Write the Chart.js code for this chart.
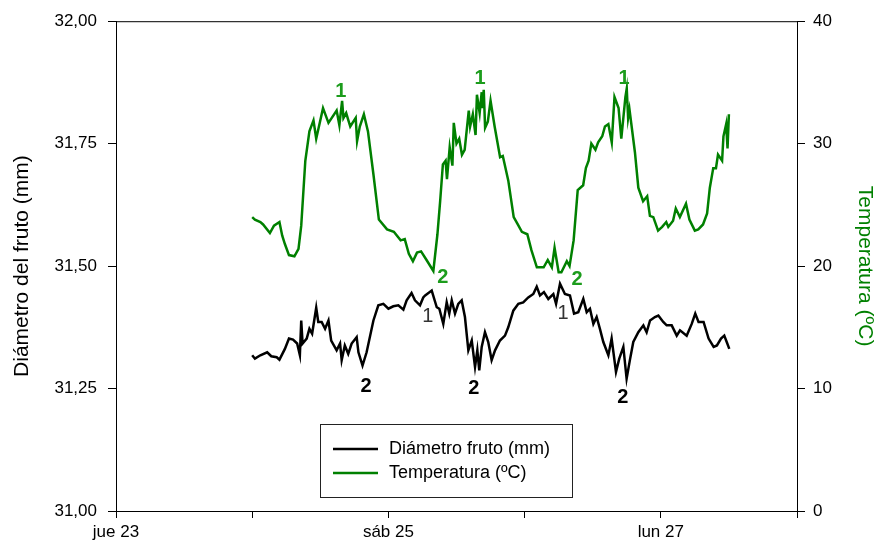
<!DOCTYPE html>
<html>
<head>
<meta charset="utf-8">
<script src="https://cdn.jsdelivr.net/npm/chart.js@4.4.0/dist/chart.umd.min.js"></script>
<style>
    html, body { margin: 0; padding: 0; background: #fff; }
    #wrap { width: 875px; height: 549px; }
</style>
</head>
<body>
<div id="wrap"><canvas id="fruitChart"></canvas></div>
<script>
// x values are days counted from jue 23 00:00
const dayLabels = ['jue 23', 'vie 24', 'sáb 25', 'dom 26', 'lun 27', 'mar 28'];

const tempDays = [1.00, 1.02, 1.06, 1.08, 1.13, 1.16, 1.20, 1.22, 1.24, 1.27, 1.31, 1.34, 1.36, 1.39, 1.42, 1.45, 1.47, 1.49,
    1.52, 1.56, 1.62, 1.64, 1.66, 1.67, 1.69, 1.72, 1.76, 1.77, 1.79, 1.82, 1.85, 1.89, 1.93, 1.99, 2.04, 2.09, 2.12, 2.15,
    2.18, 2.21, 2.24, 2.28, 2.33, 2.36, 2.38, 2.40, 2.42, 2.43, 2.45, 2.47, 2.48, 2.50, 2.52, 2.54, 2.56, 2.59, 2.60, 2.62,
    2.64, 2.65, 2.67, 2.685, 2.69, 2.70, 2.71, 2.73, 2.75, 2.78, 2.82, 2.84, 2.88, 2.92, 2.95, 2.98, 3.02, 3.05, 3.09, 3.14,
    3.17, 3.20, 3.22, 3.25, 3.27, 3.31, 3.33, 3.36, 3.39, 3.43, 3.45, 3.47, 3.49, 3.52, 3.54, 3.57, 3.59, 3.615, 3.64, 3.66,
    3.69, 3.71, 3.74, 3.75, 3.76, 3.77, 3.81, 3.835, 3.87, 3.90, 3.92, 3.945, 3.98, 4.01, 4.04, 4.055, 4.09, 4.11, 4.14,
    4.185, 4.21, 4.25, 4.275, 4.31, 4.34, 4.36, 4.385, 4.405, 4.42, 4.45, 4.46, 4.48, 4.49, 4.50];
const tempValues = [24.0, 23.8, 23.6, 23.4, 22.7, 23.3, 23.6, 22.5, 21.8, 20.9, 20.8, 21.4, 23.3, 28.6, 31.0, 31.9, 30.4, 31.4,
    32.9, 31.7, 32.7, 31.5, 33.5, 32.1, 32.5, 31.4, 32.1, 30.2, 31.4, 32.4, 31.0, 27.5, 23.8, 23.0, 22.8, 22.1, 22.2, 21.0,
    20.4, 21.1, 21.2, 20.5, 19.6, 22.6, 25.3, 28.3, 28.6, 27.1, 29.7, 28.2, 31.7, 30.0, 30.4, 29.1, 29.5, 32.7, 31.4, 32.4,
    30.7, 34.0, 32.5, 34.2, 32.9, 34.4, 31.3, 31.8, 33.5, 31.4, 28.9, 29.0, 27.0, 24.0, 23.4, 22.8, 22.6, 21.3, 19.9, 19.9,
    20.5, 19.9, 21.5, 19.5, 19.5, 20.4, 20.0, 22.1, 26.2, 26.6, 28.0, 28.6, 30.0, 29.5, 30.1, 30.6, 31.4, 31.6, 30.1, 33.8,
    32.9, 30.4, 33.8, 34.5, 32.1, 32.8, 29.3, 26.4, 25.3, 25.7, 24.1, 24.0, 22.9, 23.2, 23.6, 23.2, 23.7, 24.7, 24.0,
    25.1, 23.8, 22.9, 23.0, 23.4, 24.3, 26.4, 28.0, 28.0, 29.1, 28.6, 30.6, 31.6, 29.6, 32.4];

const diamDays = [1.00, 1.02, 1.06, 1.11, 1.14, 1.18, 1.20, 1.24, 1.27, 1.30, 1.33, 1.35, 1.36, 1.37, 1.40, 1.42, 1.44, 1.47,
    1.485, 1.51, 1.535, 1.56, 1.58, 1.62, 1.645, 1.657, 1.68, 1.705, 1.73, 1.767, 1.78, 1.81, 1.84, 1.89, 1.926, 1.963, 2.00,
    2.036, 2.073, 2.11, 2.134, 2.17, 2.195, 2.232, 2.256, 2.27, 2.318, 2.355, 2.374, 2.403, 2.428, 2.447, 2.465, 2.489, 2.513,
    2.538, 2.562, 2.587, 2.612, 2.636, 2.653, 2.667, 2.685, 2.709, 2.733, 2.758, 2.783, 2.819, 2.856, 2.880, 2.917, 2.954,
    2.990, 3.027, 3.064, 3.089, 3.113, 3.142, 3.174, 3.211, 3.231, 3.26, 3.296, 3.333, 3.363, 3.394, 3.431, 3.456, 3.48,
    3.505, 3.529, 3.553, 3.578, 3.615, 3.639, 3.671, 3.695, 3.725, 3.749, 3.773, 3.798, 3.835, 3.872, 3.896, 3.921, 3.957,
    3.982, 4.018, 4.043, 4.08, 4.117, 4.141, 4.19, 4.227, 4.253, 4.277, 4.314, 4.351, 4.388, 4.412, 4.442, 4.466, 4.484, 4.503];
const diamValues = [31.318, 31.311, 31.318, 31.324, 31.316, 31.314, 31.309, 31.331, 31.352, 31.350, 31.342, 31.318, 31.389,
    31.342, 31.352, 31.372, 31.362, 31.415, 31.386, 31.386, 31.372, 31.389, 31.348, 31.328, 31.342, 31.308, 31.338, 31.321,
    31.342, 31.355, 31.324, 31.297, 31.324, 31.389, 31.420, 31.423, 31.413, 31.418, 31.420, 31.411, 31.430, 31.445, 31.430,
    31.420, 31.436, 31.440, 31.450, 31.416, 31.413, 31.382, 31.426, 31.403, 31.430, 31.403, 31.423, 31.430, 31.396, 31.328,
    31.348, 31.294, 31.328, 31.287, 31.335, 31.365, 31.345, 31.308, 31.328, 31.348, 31.358, 31.375, 31.409, 31.423, 31.426,
    31.436, 31.443, 31.458, 31.440, 31.447, 31.433, 31.443, 31.423, 31.464, 31.443, 31.440, 31.403, 31.406, 31.433, 31.406,
    31.413, 31.382, 31.396, 31.372, 31.345, 31.318, 31.352, 31.284, 31.311, 31.335, 31.270, 31.308, 31.345, 31.365, 31.379,
    31.365, 31.389, 31.396, 31.399, 31.386, 31.379, 31.379, 31.358, 31.369, 31.358, 31.382, 31.403, 31.386, 31.386, 31.352,
    31.335, 31.338, 31.352, 31.358, 31.345, 31.331];

// "1" = max, "2" = min markers placed in data units
const tempMarkDays = [1.65, 2.673, 3.73, 2.40, 3.385];
const tempMarkValues = [34.3, 35.3, 35.3, 19.05, 18.9];
const tempMarkText = ['1', '1', '1', '2', '2'];
const diamMarkDays = [1.836, 2.628, 3.722, 2.29, 3.282];
const diamMarkValues = [31.255, 31.250, 31.232, 31.397, 31.403];
const diamMarkText = ['2', '2', '2', '1', '1'];

const GREEN = '#008000';
const FONT = "'Liberation Sans', Arial, sans-serif";

const toPoints = (xs, ys) => xs.map((x, i) => ({ x: x, y: ys[i] }));

const framePlugin = {
    id: 'frame',
    afterDraw(chart) {
        const { ctx, chartArea: a } = chart;
        ctx.save();
        ctx.strokeStyle = '#000';
        ctx.lineWidth = 1;
        ctx.strokeRect(a.left + 0.5, a.top + 0.5, a.right - a.left, a.bottom - a.top);
        ctx.restore();
    }
};

const marksPlugin = {
    id: 'marks',
    afterDatasetsDraw(chart) {
        const { ctx, scales } = chart;
        ctx.save();
        ctx.textAlign = 'center';
        ctx.textBaseline = 'middle';
        tempMarkText.forEach((t, i) => {
            ctx.font = 'bold 20px ' + FONT;
            ctx.fillStyle = '#1c9c1c';
            ctx.fillText(t, scales.x.getPixelForValue(tempMarkDays[i]), scales.y1.getPixelForValue(tempMarkValues[i]));
        });
        diamMarkText.forEach((t, i) => {
            ctx.font = (t === '2' ? 'bold ' : '') + '20px ' + FONT;
            ctx.fillStyle = t === '2' ? '#000' : '#333';
            ctx.fillText(t, scales.x.getPixelForValue(diamMarkDays[i]), scales.y.getPixelForValue(diamMarkValues[i]));
        });
        ctx.restore();
    }
};

const legendPlugin = {
    id: 'boxLegend',
    afterDraw(chart) {
        const ctx = chart.ctx;
        ctx.save();
        ctx.fillStyle = '#fff';
        ctx.fillRect(320, 424, 252, 73);
        ctx.strokeStyle = '#222';
        ctx.lineWidth = 1;
        ctx.strokeRect(320.5, 424.5, 252, 73);
        ctx.font = '18px ' + FONT;
        ctx.textBaseline = 'middle';
        chart.data.datasets.forEach((ds, i) => {
            const y = 449 + i * 24;
            ctx.strokeStyle = ds.borderColor;
            ctx.lineWidth = 2.5;
            ctx.beginPath();
            ctx.moveTo(333, y);
            ctx.lineTo(378, y);
            ctx.stroke();
            ctx.fillStyle = '#000';
            ctx.fillText(ds.label, 389, y);
        });
        ctx.restore();
    }
};

const ctx = document.getElementById('fruitChart').getContext('2d');
const fruitChart = new Chart(ctx, {
    type: 'line',
    data: {
        datasets: [{
            label: 'Diámetro fruto (mm)',
            data: toPoints(diamDays, diamValues),
            borderColor: '#000',
            borderWidth: 2.5,
            pointRadius: 0,
            yAxisID: 'y'
        }, {
            label: 'Temperatura (ºC)',
            data: toPoints(tempDays, tempValues),
            borderColor: GREEN,
            borderWidth: 2.5,
            pointRadius: 0,
            yAxisID: 'y1'
        }]
    },
    options: {
        responsive: true,
        maintainAspectRatio: false,
        devicePixelRatio: 1,
        animation: false,
        layout: { padding: { top: 20, left: 0, right: 0, bottom: 0 } },
        plugins: { legend: { display: false }, tooltip: { enabled: false } },
        scales: {
            x: {
                type: 'linear',
                min: 0,
                max: 5,
                afterFit: s => { s.height = 38; },
                border: { color: '#000', width: 1 },
                grid: { drawOnChartArea: false, drawTicks: true, tickLength: 7, color: '#000' },
                ticks: {
                    stepSize: 1,
                    autoSkip: false,
                    maxRotation: 0,
                    padding: 4,
                    color: '#000',
                    font: { family: FONT, size: 17 },
                    callback: v => (v % 2 === 0 ? dayLabels[v] : '')
                }
            },
            y: {
                position: 'left',
                min: 31,
                max: 32,
                afterFit: s => { s.width = 116; },
                border: { color: '#000', width: 1 },
                grid: { drawOnChartArea: false, drawTicks: true, tickLength: 8, color: '#000' },
                ticks: {
                    stepSize: 0.25,
                    padding: 11,
                    color: '#000',
                    font: { family: FONT, size: 17 },
                    callback: v => v.toFixed(2).replace('.', ',')
                },
                title: {
                    display: true,
                    text: 'Diámetro del fruto (mm)',
                    color: '#000',
                    padding: { top: 12, bottom: 0 },
                    font: { family: FONT, size: 21, lineHeight: 1 }
                }
            },
            y1: {
                position: 'right',
                min: 0,
                max: 40,
                afterFit: s => { s.width = 78; },
                border: { color: '#000', width: 1 },
                grid: { drawOnChartArea: false, drawTicks: true, tickLength: 8, color: '#000' },
                ticks: {
                    stepSize: 10,
                    padding: 8,
                    color: '#000',
                    font: { family: FONT, size: 17 }
                },
                title: {
                    display: true,
                    text: 'Temperatura (ºC)',
                    color: GREEN,
                    padding: { top: 0, bottom: 0 },
                    font: { family: FONT, size: 21, lineHeight: 1 }
                }
            }
        }
    },
    plugins: [framePlugin, marksPlugin, legendPlugin]
});
</script>
</body>
</html>
